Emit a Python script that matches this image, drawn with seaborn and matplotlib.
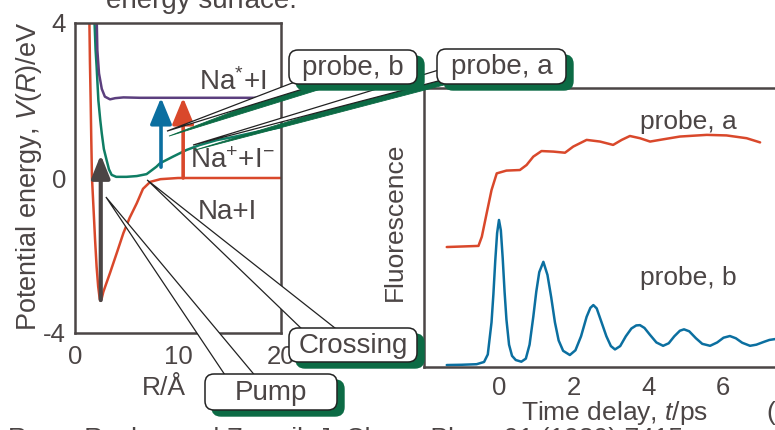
import matplotlib
matplotlib.use("Agg")
import matplotlib.pyplot as plt
import seaborn as sns
from matplotlib.patches import FancyBboxPatch, Polygon

# -------------------- DATA --------------------
# potential curves, R in Angstrom, V in eV
R_cov = [1.39, 1.45, 1.52, 1.58, 1.65, 1.80, 1.95, 2.10, 2.25, 2.40, 2.48, 2.60, 2.75, 3.00,
         3.40, 4.10, 4.70, 5.30, 6.00, 6.60, 7.30, 8.30, 10.0, 15.0, 20.0]
V_cov = [4.2, 3.0, 2.0, 1.0, 0.0, -0.8, -1.6, -2.3, -2.8, -3.12, -3.17, -3.1, -2.94, -2.75,
         -2.45, -1.9, -1.42, -1.03, -0.65, -0.28, -0.1, -0.03, 0.0, 0.0, 0.0]

R_ion = [1.87, 2.00, 2.10, 2.27, 2.45, 2.60, 2.80, 3.07, 3.30, 3.56, 4.00, 5.00, 6.00, 6.95,
         7.90, 8.25, 9.50, 10.8, 12.1, 13.8, 15.4, 17.3, 18.6, 20.0]
V_ion = [4.2, 3.3, 2.87, 2.0, 1.5, 1.15, 0.75, 0.46, 0.22, 0.08, 0.03, 0.03, 0.05, 0.10,
         0.29, 0.38, 0.55, 0.72, 0.85, 0.98, 1.06, 1.17, 1.24, 1.31]

R_exc = [2.10, 2.17, 2.33, 2.60, 2.90, 3.40, 3.90, 4.70, 6.30, 20.0]
V_exc = [4.2, 3.3, 2.7, 2.3, 2.1, 2.03, 2.06, 2.08, 2.07, 2.07]

# vertical transitions: R, V start, V end
pump_arrow = [2.5, -3.15, 0.6]
probe_b_arrow = [8.35, 0.28, 2.07]
probe_a_arrow = [10.5, 0.0, 2.07]

# fluorescence transients, t in ps
t_a = [-1.40, -0.55, -0.46, -0.33, -0.20, -0.06, 0.20, 0.56, 0.74, 0.92, 1.14, 1.46, 1.77,
       1.99, 2.35, 2.71, 3.06, 3.29, 3.51, 3.78, 4.05, 4.40, 4.85, 5.57, 6.10, 6.64, 7.00]
f_a = [0.43, 0.434, 0.467, 0.551, 0.634, 0.694, 0.704, 0.706, 0.724, 0.754, 0.774, 0.772, 0.768,
       0.79, 0.814, 0.808, 0.796, 0.814, 0.828, 0.82, 0.808, 0.816, 0.826, 0.832, 0.83, 0.82, 0.805]

t_b = [-1.40, -1.00, -0.60, -0.40, -0.30, -0.20, -0.15, -0.10, -0.05, 0.00, 0.05, 0.10, 0.15,
       0.20, 0.27, 0.35, 0.45, 0.60, 0.72, 0.82, 0.92, 1.00, 1.08, 1.19, 1.30, 1.40, 1.50,
       1.60, 1.72, 1.90, 2.05, 2.20, 2.35, 2.45, 2.53, 2.62, 2.75, 2.88, 3.00, 3.11, 3.25,
       3.40, 3.55, 3.68, 3.78, 3.90, 4.05, 4.22, 4.40, 4.55, 4.70, 4.85, 4.96, 5.10, 5.28,
       5.45, 5.66, 5.85, 6.02, 6.19, 6.35, 6.52, 6.73, 6.90, 7.10, 7.25, 7.40, 7.60]
f_b = [0.007, 0.008, 0.010, 0.018, 0.045, 0.16, 0.26, 0.38, 0.48, 0.527, 0.49, 0.39, 0.27,
       0.17, 0.08, 0.04, 0.025, 0.019, 0.03, 0.08, 0.18, 0.27, 0.34, 0.377, 0.33, 0.25, 0.16,
       0.095, 0.058, 0.043, 0.06, 0.11, 0.18, 0.212, 0.222, 0.21, 0.16, 0.11, 0.075, 0.063, 0.075,
       0.11, 0.138, 0.149, 0.150, 0.14, 0.115, 0.088, 0.076, 0.085, 0.11, 0.13, 0.135, 0.128, 0.103,
       0.083, 0.076, 0.088, 0.105, 0.111, 0.103, 0.087, 0.076, 0.08, 0.09, 0.097, 0.100, 0.101]

# -------------------- STYLE --------------------
INK = '#4b4545'
RED = '#d9482b'
BLUE = '#0b6fa0'
TEAL = '#0f7d64'
PURPLE = '#5b3f7e'
SHADOW = '#0c6b45'

sns.set_theme(style="white")
plt.rcParams['font.family'] = ['Liberation Sans', 'DejaVu Sans']
plt.rcParams['mathtext.fontset'] = 'custom'
plt.rcParams['mathtext.rm'] = 'Liberation Sans'
plt.rcParams['mathtext.it'] = 'Liberation Sans:italic'
plt.rcParams['text.color'] = INK
plt.rcParams['axes.edgecolor'] = INK
plt.rcParams['xtick.color'] = INK
plt.rcParams['ytick.color'] = INK

fig = plt.figure(figsize=(7.75, 4.3), dpi=100)
W, H = 775, 430

ax1 = fig.add_axes([75 / W, 1 - 333 / H, 206 / W, 310 / H])
ax2 = fig.add_axes([424 / W, 1 - 367 / H, 376 / W, 279 / H])
ov = fig.add_axes([0, 0, 1, 1], zorder=10)
ov.set_xlim(0, W)
ov.set_ylim(H, 0)
ov.axis('off')

# -------------------- LEFT: potential curves --------------------
lw = 1.8
sns.lineplot(x=R_cov, y=V_cov, ax=ax1, color=RED, lw=lw, sort=False, estimator=None)
sns.lineplot(x=R_ion, y=V_ion, ax=ax1, color=TEAL, lw=lw, sort=False, estimator=None)
sns.lineplot(x=R_exc, y=V_exc, ax=ax1, color=PURPLE, lw=lw, sort=False, estimator=None)

for (r, v0, v1), c, w, hl, hw in [(pump_arrow, INK, 3.0, 0.7, 0.28),
                                  (probe_b_arrow, BLUE, 2.6, 0.8, 0.33),
                                  (probe_a_arrow, RED, 2.6, 0.8, 0.33)]:
    ax1.annotate('', xy=(r, v1), xytext=(r, v0),
                 arrowprops=dict(arrowstyle=f'-|>,head_length={hl},head_width={hw}',
                                 color=c, lw=w, shrinkA=0, shrinkB=0, mutation_scale=20))

ax1.set_xlim(0, 20)
ax1.set_ylim(-4, 4)
ax1.set_xticks([0, 10, 20])
ax1.set_xticklabels(['0', '10', '20'])
ax1.set_yticks([-4, 0, 4])
ax1.set_yticklabels(['-4', '0', '4'])
ax1.tick_params(axis='x', length=0, pad=8.5, labelsize=18.5)
ax1.tick_params(axis='y', length=0, pad=6.5, labelsize=18.5)
ax1.set_xticks([10], minor=True)
ax1.set_yticks([0], minor=True)
ax1.tick_params(which='minor', direction='in', length=7, width=2.5, color=INK)
ax1.set_xlabel('')
ax1.set_ylabel('')
for s in ax1.spines.values():
    s.set_linewidth(1.8)

ax1.text(15.3, 2.48, 'Na$^{*}$+I', fontsize=20, ha='center', va='center')
ax1.text(15.3, 0.45, 'Na$^{+}$+I$^{-}$', fontsize=20, ha='center', va='center')
ax1.text(14.8, -0.88, 'Na+I', fontsize=20, ha='center', va='center')

# -------------------- RIGHT: transients --------------------
sns.lineplot(x=t_a, y=f_a, ax=ax2, color=RED, lw=lw, sort=False, estimator=None)
sns.lineplot(x=t_b, y=f_b, ax=ax2, color=BLUE, lw=lw, sort=False, estimator=None)
ax2.set_xlim(-2.01, 8.07)
ax2.set_ylim(0, 1)
ax2.set_xticks([0, 2, 4, 6])
ax2.set_xticklabels(['0', '2', '4', '6'])
ax2.set_yticks([])
ax2.set_yticks([0.43], minor=True)
ax2.tick_params(axis='x', direction='in', length=5, width=2.5, pad=6.5, labelsize=18.5)
ax2.tick_params(axis='y', which='minor', direction='in', length=14, width=2.5, color=INK)
ax2.set_xlabel('')
ax2.set_ylabel('')
for s in ax2.spines.values():
    s.set_linewidth(1.8)
ax2.text(5.07, 0.878, 'probe, a', fontsize=19, ha='center', va='center')
ax2.text(5.07, 0.32, 'probe, b', fontsize=19, ha='center', va='center')

# -------------------- labels (pixel coords) --------------------
ov.text(29, 176, 'Potential energy, $V$($R$)/eV', rotation=90, fontsize=19.5,
        ha='center', va='center')
ov.text(164, 388, 'R/Å', fontsize=19, ha='center', va='center')
ov.text(395, 222, 'Fluorescence', rotation=90, fontsize=19, ha='center', va='center')
ov.text(615, 413, 'Time delay, $t$/ps', fontsize=19, ha='center', va='center')
ov.text(201, 8, 'energy surface.', fontsize=20, ha='center', va='baseline')
ov.text(766, 413, '(b)', fontsize=19, ha='left', va='center')
ov.text(8, 446, 'Rose, Rosker and Zewail, J. Chem. Phys. 91 (1989) 7415', fontsize=19,
        ha='left', va='baseline')


# -------------------- callouts --------------------
def to_px(ax, x, y):
    return tuple(ov.transData.inverted().transform(ax.transData.transform((x, y))))


callouts = [
    # label, box (x0, y0, x1, y1), apex in data coords, wedge base points, wedge shadow
    ('probe, b', (289, 50, 417, 84), (8.93, 1.21), [(300, 80), (332, 80)], True),
    ('probe, a', (437, 49, 566, 84), (11.46, 0.85), [(442, 69), (442, 80)], True),
    ('Crossing', (289, 328, 417, 362), (7.0, -0.05), [(305, 332), (340, 332)], False),
    ('Pump', (205, 374, 337, 410), (3.0, -0.49), [(227, 378), (257, 378)], False),
]

for label, (x0, y0, x1, y1), apex, base, shade in callouts:
    ap = to_px(ax1, *apex)
    if shade:
        pts = [(p[0] + 2, p[1] + 5) for p in [ap] + base]
        ov.add_patch(Polygon(pts, closed=True, fc=SHADOW, ec=SHADOW, lw=0.6, zorder=1))
    ov.add_patch(Polygon([ap] + base, closed=True, fc='white', ec='#222222', lw=0.9, zorder=2))

for label, (x0, y0, x1, y1), apex, base, shade in callouts:
    ov.add_patch(FancyBboxPatch((x0 + 7, y0 + 6), x1 - x0, y1 - y0,
                                boxstyle='round,pad=0,rounding_size=9',
                                fc=SHADOW, ec=SHADOW, lw=1, zorder=3))
    ov.add_patch(FancyBboxPatch((x0, y0), x1 - x0, y1 - y0,
                                boxstyle='round,pad=0,rounding_size=9',
                                fc='white', ec='#222222', lw=1.1, zorder=4))
    ov.text((x0 + x1) / 2, (y0 + y1) / 2 + 1, label, fontsize=20, ha='center', va='center',
            zorder=5)

fig.savefig('out.png', dpi=100)
